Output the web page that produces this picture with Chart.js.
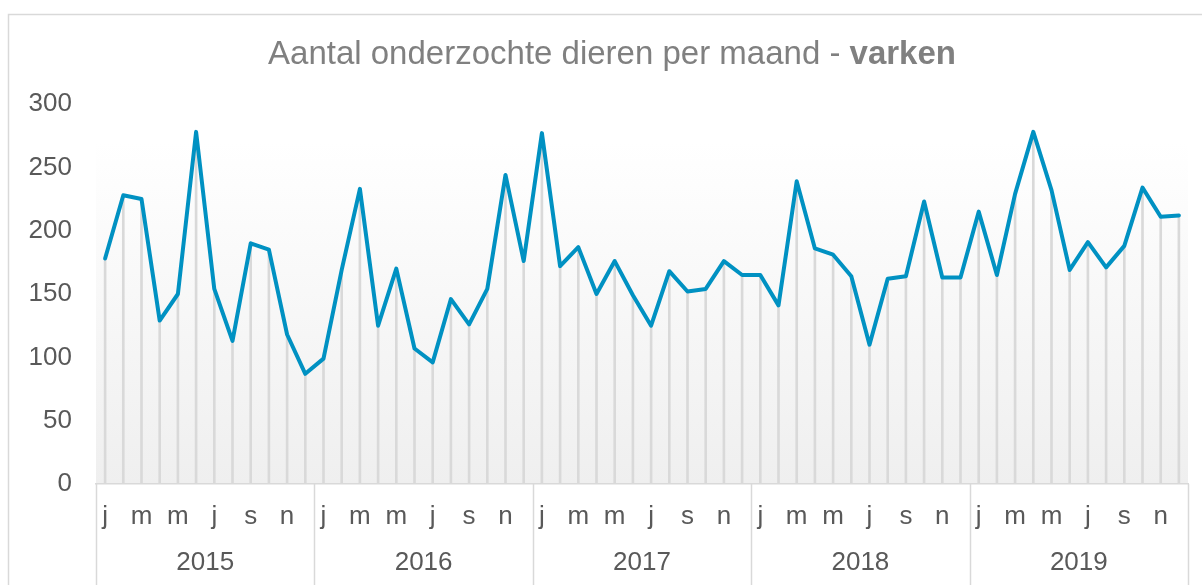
<!DOCTYPE html>
<html>
<head>
<meta charset="utf-8">
<script src="https://cdn.jsdelivr.net/npm/chart.js@4/dist/chart.umd.min.js"></script>
<style>
  html, body { margin: 0; padding: 0; background: #ffffff; }
  #wrap { width: 1202px; height: 585px; position: relative; }
</style>
</head>
<body>
<div id="wrap"><canvas id="c"></canvas></div>
<script>
// ---- Data ----
const titleNormal = 'Aantal onderzochte dieren per maand - ';
const titleBold = 'varken';
const years = ['2015', '2016', '2017', '2018', '2019'];
const monthLetters = ['j', 'f', 'm', 'a', 'm', 'j', 'j', 'a', 's', 'o', 'n', 'd'];
const values2015 = [178, 228, 225, 129, 150, 278, 154, 113, 190, 185, 118, 87];
const values2016 = [99, 169, 233, 125, 170, 107, 96, 146, 126, 154, 244, 176];
const values2017 = [277, 172, 187, 150, 176, 149, 125, 168, 152, 154, 176, 165];
const values2018 = [165, 141, 239, 186, 181, 164, 110, 162, 164, 223, 163, 163];
const values2019 = [215, 165, 229, 278, 232, 169, 191, 171, 188, 234, 211, 212];
const yTicks = [0, 50, 100, 150, 200, 250, 300];

// ---- Build ----
const allValues = [].concat(values2015, values2016, values2017, values2018, values2019);
const categories = [];
years.forEach(y => monthLetters.forEach(m => categories.push(m)));

const FONT = "'Liberation Sans', Arial, sans-serif";

const framePlugin = {
  id: 'frame',
  beforeDraw(chart) {
    const ctx = chart.ctx;
    const a = chart.chartArea;
    ctx.save();
    ctx.fillStyle = '#ffffff';
    ctx.fillRect(0, 0, chart.width, chart.height);
    ctx.strokeStyle = '#d9d9d9';
    ctx.lineWidth = 1.5;
    ctx.strokeRect(8.5, 14.5, chart.width + 20, chart.height + 20);
    const g = ctx.createLinearGradient(0, a.top, 0, a.bottom);
    g.addColorStop(0, '#ffffff');
    g.addColorStop(0.1, '#ffffff');
    g.addColorStop(1, '#efefef');
    ctx.fillStyle = g;
    ctx.fillRect(a.left, a.top, a.right - a.left, a.bottom - a.top);
    ctx.restore();
  },
  afterDraw(chart) {
    const ctx = chart.ctx;
    const a = chart.chartArea;
    const xs = chart.scales.x;
    ctx.save();
    // Title (normal + bold parts)
    ctx.textBaseline = 'alphabetic';
    ctx.fillStyle = '#808080';
    ctx.font = '33px ' + FONT;
    const w1 = ctx.measureText(titleNormal).width;
    ctx.font = 'bold 33px ' + FONT;
    const w2 = ctx.measureText(titleBold).width;
    const cx = 612;
    const x0 = cx - (w1 + w2) / 2;
    ctx.textAlign = 'left';
    ctx.font = '33px ' + FONT;
    ctx.fillText(titleNormal, x0, 64);
    ctx.font = 'bold 33px ' + FONT;
    ctx.fillText(titleBold, x0 + w1, 64);

    // Year group separators and labels
    const step = xs.getPixelForValue(1) - xs.getPixelForValue(0);
    ctx.strokeStyle = '#d9d9d9';
    ctx.lineWidth = 1.5;
    for (let k = 0; k <= years.length; k++) {
      const x = xs.getPixelForValue(k * 12) - step / 2;
      ctx.beginPath();
      ctx.moveTo(Math.round(x) + 0.5, a.bottom);
      ctx.lineTo(Math.round(x) + 0.5, chart.height + 5);
      ctx.stroke();
    }
    ctx.fillStyle = '#595959';
    ctx.font = '26px ' + FONT;
    ctx.textAlign = 'center';
    ctx.textBaseline = 'middle';
    years.forEach((y, k) => {
      const xa = xs.getPixelForValue(k * 12);
      const xb = xs.getPixelForValue(k * 12 + 11);
      ctx.fillText(y, (xa + xb) / 2, 563);
    });
    ctx.restore();
  }
};

new Chart(document.getElementById('c'), {
  data: {
    labels: categories,
    datasets: [
      {
        type: 'line',
        data: allValues,
        borderColor: '#0091c2',
        borderWidth: 4,
        pointRadius: 0,
        tension: 0,
        borderJoinStyle: 'round',
        borderCapStyle: 'round',
        order: 0
      },
      {
        type: 'bar',
        data: allValues,
        backgroundColor: '#d9d9d9',
        barThickness: 2,
        order: 1
      }
    ]
  },
  options: {
    responsive: true,
    maintainAspectRatio: false,
    devicePixelRatio: 1,
    animation: false,
    events: [],
    layout: { padding: { top: 104, right: 14, left: 0, bottom: 0 } },
    plugins: {
      legend: { display: false },
      title: { display: false },
      tooltip: { enabled: false }
    },
    scales: {
      x: {
        type: 'category',
        offset: true,
        grid: { display: false, drawTicks: false },
        border: { display: true, color: '#d9d9d9', width: 1.5 },
        ticks: {
          autoSkip: false,
          maxRotation: 0,
          minRotation: 0,
          padding: 17,
          color: '#595959',
          font: { family: FONT, size: 26 },
          callback: function (val, idx) { return idx % 2 === 0 ? categories[idx] : ''; }
        },
        afterFit(scale) { scale.height = 101; }
      },
      y: {
        min: 0,
        max: 300,
        grid: { display: false, drawTicks: false },
        border: { display: false },
        afterBuildTicks(scale) { scale.ticks = yTicks.map(v => ({ value: v })); },
        ticks: {
          padding: 24,
          color: '#595959',
          font: { family: FONT, size: 26 }
        },
        afterFit(scale) { scale.width = 96; }
      }
    }
  },
  plugins: [framePlugin]
});
</script>
</body>
</html>
